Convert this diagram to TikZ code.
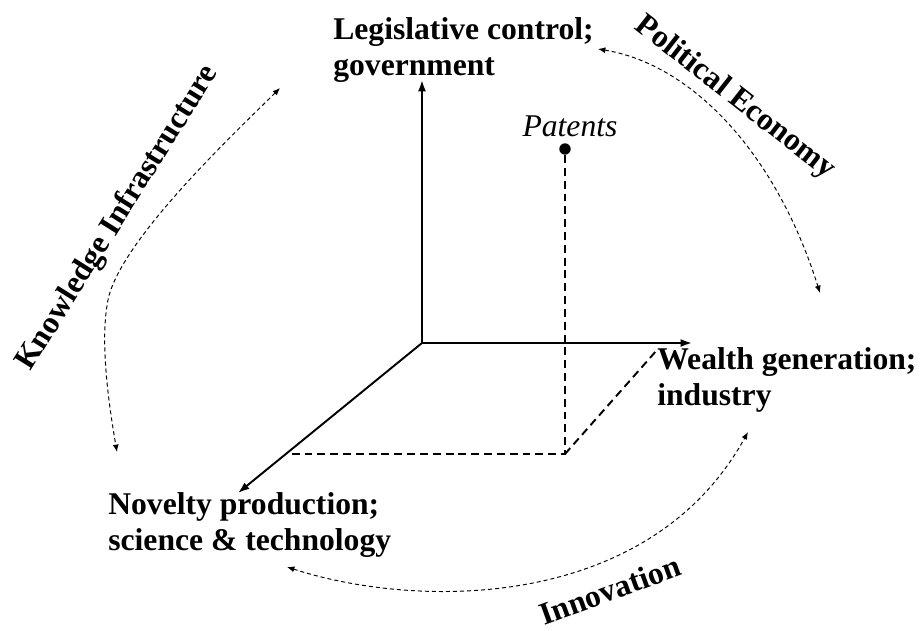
\documentclass[tikz,border=0pt]{standalone}
\usepackage{fontspec}
\setmainfont{Liberation Serif}
\usetikzlibrary{arrows.meta}

\begin{document}
\begin{tikzpicture}[x=0.02cm, y=-0.02cm,
    >={Latex[length=6.5pt,width=4.6pt]},
    % Line styles
    axis/.style={->, line width=1.1pt},
    proj/.style={line width=1.1pt, dash pattern=on 4.5pt off 2.8pt},
    link/.style={{Latex[length=4.2pt,width=3.4pt]}-{Latex[length=4.2pt,width=3.4pt]},
                 line width=0.55pt, dash pattern=on 2.3pt off 1.7pt},
    % Text styles
    lbl/.style={font=\fontsize{18}{20.5}\selectfont\bfseries, align=left, inner sep=0pt},
    theme/.style={font=\fontsize{18}{20.5}\selectfont\bfseries, inner sep=0pt},
    dot/.style={circle, fill=black, inner sep=0pt, minimum size=6.5pt},
  ]
  \useasboundingbox (0,0) rectangle (921,631);

  % ===== Axes =====
  \coordinate (origin) at (422,343);
  \coordinate (legisTip) at (422,80);
  \coordinate (wealthTip) at (692,343);
  \coordinate (noveltyTip) at (238,493);
  \draw[axis] (origin) -- (legisTip);
  \draw[axis] (origin) -- (wealthTip);
  \draw[axis] (origin) -- (noveltyTip);

  % ===== Axis labels =====
  \node[lbl, anchor=north west] (legis) at (333,17) {Legislative control;\\government};
  \node[lbl, anchor=north west] (wealth) at (657,347) {Wealth generation;\\industry};
  \node[lbl, anchor=north west] (novelty) at (108,492) {Novelty production;\\science \& technology};

  % ===== Patents point and projections =====
  \node[dot] (pat) at (565,149) {};
  \node[font=\fontsize{18}{20.5}\selectfont\itshape, anchor=base, inner sep=0pt]
    (patents) at (570,137) {Patents};
  \coordinate (patFoot) at (565,454);
  \coordinate (patNov) at (287,454);
  \coordinate (patWealth) at (657,350);
  \draw[proj] (pat) -- (patFoot) -- (patNov);
  \draw[proj] (patFoot) -- (patWealth);

  % ===== Themes =====
  \node[theme, rotate=58] (knowinfra) at (118,218) {Knowledge Infrastructure};
  \node[theme, rotate=-38] (poleco) at (735,98) {Political Economy};
  \node[theme, rotate=20] (innov) at (610,590) {Innovation};

  % ===== Curved links =====
  \coordinate (kiTop) at (280,88);
  \coordinate (kiBot) at (117,452);
  \draw[link] (kiTop) .. controls (238,130) and (120,240) .. (108,300)
    .. controls (100,340) and (108,400) .. (kiBot);

  \coordinate (peTop) at (598,49);
  \coordinate (peBot) at (820,293);
  \draw[link] (peTop) .. controls (690,64) and (775,150) .. (peBot);

  \coordinate (inLeft) at (287,567);
  \coordinate (inRight) at (748,432);
  \draw[link] (inLeft) .. controls (420,610) and (650,610) .. (inRight);

\end{tikzpicture}
\end{document}
